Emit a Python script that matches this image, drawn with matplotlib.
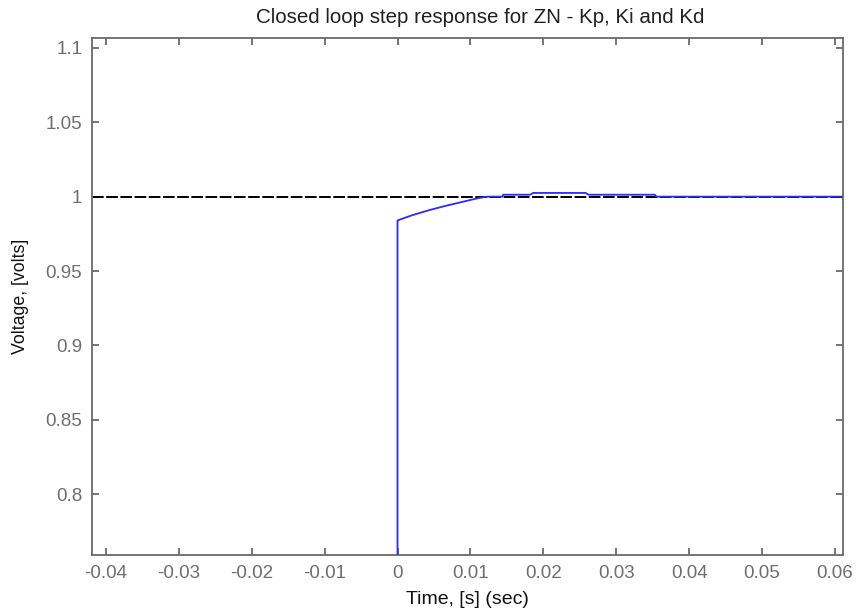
import matplotlib
matplotlib.use("Agg")
import matplotlib.pyplot as plt

plt.rcParams['font.family'] = ['Liberation Sans', 'DejaVu Sans']

# Closed-loop step response (ZN-tuned PID)
time = [0.0, 0.0, 0.002, 0.0044, 0.0065, 0.0085, 0.0100, 0.0112, 0.0123,
        0.0144, 0.0145, 0.0182, 0.0186, 0.0258, 0.0262, 0.0353, 0.0355, 0.0615]
voltage = [0.0, 0.984, 0.9875, 0.991, 0.9937, 0.996, 0.9978, 0.9991, 1.0,
           1.0, 1.0013, 1.0013, 1.0025, 1.0025, 1.0013, 1.0013, 1.0, 1.0]

reference_level = 1.0
x_ticks = [-0.04, -0.03, -0.02, -0.01, 0, 0.01, 0.02, 0.03, 0.04, 0.05, 0.06]
x_tick_labels = ['-0.04', '-0.03', '-0.02', '-0.01', '0', '0.01', '0.02',
                 '0.03', '0.04', '0.05', '0.06']
y_ticks = [0.8, 0.85, 0.9, 0.95, 1.0, 1.05, 1.1]
y_tick_labels = ['0.8', '0.85', '0.9', '0.95', '1', '1.05', '1.1']

fig = plt.figure(figsize=(8.56, 6.14), dpi=100)
ax = fig.add_axes([0.1075, 0.0961, 0.8773, 0.842])

xlim = (-0.0419, 0.0611)
ylim = (0.759, 1.1067)

ax.plot(xlim, [reference_level, reference_level], color='black', lw=1.4,
        linestyle=(0, (6, 1.3)), zorder=2)
ax.plot(time, voltage, color='#2a2aff', lw=1.3, zorder=3)

ax.set_xlim(*xlim)
ax.set_ylim(*ylim)
ax.set_xticks(x_ticks)
ax.set_xticklabels(x_tick_labels)
ax.set_yticks(y_ticks)
ax.set_yticklabels(y_tick_labels)

spine_color = '#6a6a6a'
for s in ax.spines.values():
    s.set_color(spine_color)
    s.set_linewidth(1.3)
ax.tick_params(direction='in', length=5, width=1.3, color=spine_color,
               top=True, right=True, labelsize=13.5, labelcolor='#6e6e6e', pad=7)

ax.set_title('Closed loop step response for ZN - Kp, Ki and Kd', fontsize=14.8,
             color='#202020', pad=11, x=0.517)
ax.set_xlabel('Time, [s] (sec)', fontsize=14, color='#111111', labelpad=7)
ax.set_ylabel('Voltage, [volts]', fontsize=12.8, color='#111111', labelpad=12)

fig.savefig('out.png', dpi=100)
